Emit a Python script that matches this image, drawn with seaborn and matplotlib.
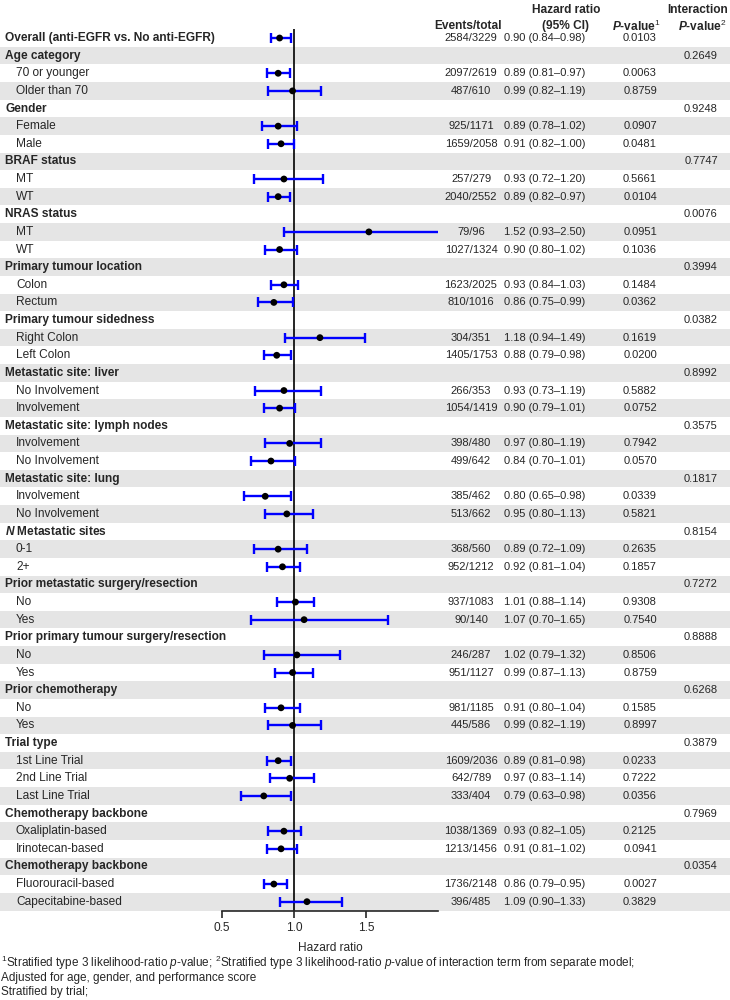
import numpy as np
import pandas as pd
import matplotlib
matplotlib.use("Agg")
import matplotlib.pyplot as plt
import seaborn as sns

# filas del forest plot (nivel 0 = encabezado en negrita)
labels = ["Overall (anti-EGFR vs. No anti-EGFR)",
          "Age category", "70 or younger", "Older than 70",
          "Gender", "Female", "Male",
          "BRAF status", "MT", "WT",
          "NRAS status", "MT", "WT",
          "Primary tumour location", "Colon", "Rectum",
          "Primary tumour sidedness", "Right Colon", "Left Colon",
          "Metastatic site: liver", "No Involvement", "Involvement",
          "Metastatic site: lymph nodes", "Involvement", "No Involvement",
          "Metastatic site: lung", "Involvement", "No Involvement",
          r"$\mathbfit{N}$ Metastatic sites", "0-1", "2+",
          "Prior metastatic surgery/resection", "No", "Yes",
          "Prior primary tumour surgery/resection", "No", "Yes",
          "Prior chemotherapy", "No", "Yes",
          "Trial type", "1st Line Trial", "2nd Line Trial", "Last Line Trial",
          "Chemotherapy backbone", "Oxaliplatin-based", "Irinotecan-based",
          "Chemotherapy backbone", "Fluorouracil-based", "Capecitabine-based"]

level = [0, 0, 1, 1, 0, 1, 1, 0, 1, 1, 0, 1, 1, 0, 1, 1, 0, 1, 1, 0, 1, 1,
         0, 1, 1, 0, 1, 1, 0, 1, 1, 0, 1, 1, 0, 1, 1, 0, 1, 1, 0, 1, 1, 1,
         0, 1, 1, 0, 1, 1]

events = ["2584/3229", "", "2097/2619", "487/610", "", "925/1171", "1659/2058",
          "", "257/279", "2040/2552", "", "79/96", "1027/1324", "", "1623/2025",
          "810/1016", "", "304/351", "1405/1753", "", "266/353", "1054/1419",
          "", "398/480", "499/642", "", "385/462", "513/662", "", "368/560",
          "952/1212", "", "937/1083", "90/140", "", "246/287", "951/1127", "",
          "981/1185", "445/586", "", "1609/2036", "642/789", "333/404", "",
          "1038/1369", "1213/1456", "", "1736/2148", "396/485"]

nan = np.nan
hr = [0.90, nan, 0.89, 0.99, nan, 0.89, 0.91, nan, 0.93, 0.89, nan, 1.52, 0.90,
      nan, 0.93, 0.86, nan, 1.18, 0.88, nan, 0.93, 0.90, nan, 0.97, 0.84, nan,
      0.80, 0.95, nan, 0.89, 0.92, nan, 1.01, 1.07, nan, 1.02, 0.99, nan, 0.91,
      0.99, nan, 0.89, 0.97, 0.79, nan, 0.93, 0.91, nan, 0.86, 1.09]
lo = [0.84, nan, 0.81, 0.82, nan, 0.78, 0.82, nan, 0.72, 0.82, nan, 0.93, 0.80,
      nan, 0.84, 0.75, nan, 0.94, 0.79, nan, 0.73, 0.79, nan, 0.80, 0.70, nan,
      0.65, 0.80, nan, 0.72, 0.81, nan, 0.88, 0.70, nan, 0.79, 0.87, nan, 0.80,
      0.82, nan, 0.81, 0.83, 0.63, nan, 0.82, 0.81, nan, 0.79, 0.90]
hi = [0.98, nan, 0.97, 1.19, nan, 1.02, 1.00, nan, 1.20, 0.97, nan, 2.50, 1.02,
      nan, 1.03, 0.99, nan, 1.49, 0.98, nan, 1.19, 1.01, nan, 1.19, 1.01, nan,
      0.98, 1.13, nan, 1.09, 1.04, nan, 1.14, 1.65, nan, 1.32, 1.13, nan, 1.04,
      1.19, nan, 0.98, 1.14, 0.98, nan, 1.05, 1.02, nan, 0.95, 1.33]

pvals = ["0.0103", "", "0.0063", "0.8759", "", "0.0907", "0.0481", "", "0.5661",
         "0.0104", "", "0.0951", "0.1036", "", "0.1484", "0.0362", "", "0.1619",
         "0.0200", "", "0.5882", "0.0752", "", "0.7942", "0.0570", "", "0.0339",
         "0.5821", "", "0.2635", "0.1857", "", "0.9308", "0.7540", "", "0.8506",
         "0.8759", "", "0.1585", "0.8997", "", "0.0233", "0.7222", "0.0356", "",
         "0.2125", "0.0941", "", "0.0027", "0.3829"]

inter_p = ["", "0.2649", "", "", "0.9248", "", "", "0.7747", "", "", "0.0076",
           "", "", "0.3994", "", "", "0.0382", "", "", "0.8992", "", "",
           "0.3575", "", "", "0.1817", "", "", "0.8154", "", "", "0.7272", "",
           "", "0.8888", "", "", "0.6268", "", "", "0.3879", "", "", "",
           "0.7969", "", "", "0.0354", "", ""]

df = pd.DataFrame({"label": labels, "level": level, "events": events,
                   "hr": hr, "lo": lo, "hi": hi, "p": pvals, "pint": inter_p})
df["row"] = np.arange(len(df))
n = len(df)

sns.set_style("white")
plt.rcParams["font.family"] = ["Liberation Sans", "DejaVu Sans"]
plt.rcParams["mathtext.fontset"] = "custom"
plt.rcParams["mathtext.rm"] = "Liberation Sans"
plt.rcParams["mathtext.it"] = "Liberation Sans:italic"
plt.rcParams["mathtext.bf"] = "Liberation Sans:bold"
plt.rcParams["mathtext.bfit"] = "Liberation Sans:italic:bold"

W, H = 730, 1000
fig = plt.figure(figsize=(7.3, 10), dpi=100)

top_px, bot_px = 29.2, 910.5
y0 = 1 - bot_px / H
hgt = (bot_px - top_px) / H

# fondo con bandas grises + tabla de texto
bg = fig.add_axes([0, y0, 1, hgt], zorder=0)
bg.set_xlim(0, W)
bg.set_ylim(n - 0.5, -0.5)
bg.axis("off")
for i in range(n):
    if i % 2 == 1:
        bg.axhspan(i - 0.5, i + 0.5, color="#e5e5e5", lw=0)

fs = 8.6
fnum = 8.0
for _, r in df.iterrows():
    i = r["row"]
    if r["level"] == 0:
        bg.text(5, i, r["label"], fontsize=fs, fontweight="bold", va="center")
    else:
        bg.text(16, i, r["label"], fontsize=fs, va="center")
    if r["events"]:
        bg.text(471, i, r["events"], fontsize=fnum, va="center", ha="center")
    if not np.isnan(r["hr"]):
        bg.text(545, i, f"{r['hr']:.2f} ({r['lo']:.2f}\u2013{r['hi']:.2f})",
                fontsize=fnum, va="center", ha="center")
    if r["p"]:
        bg.text(640, i, r["p"], fontsize=fnum, va="center", ha="center")
    if r["pint"]:
        bg.text(701, i, r["pint"], fontsize=fnum, va="center", ha="center")

# forest plot
ax = fig.add_axes([222 / W, y0, (438 - 222) / W, hgt], zorder=1)
ax.set_facecolor("none")
ax.axvline(1.0, color="black", lw=1.2, zorder=1)
ax.errorbar(df["hr"], df["row"], xerr=[df["hr"] - df["lo"], df["hi"] - df["hr"]],
            fmt="none", ecolor="#0000ff", elinewidth=1.7, capsize=3.6,
            capthick=1.7, zorder=2)
sns.scatterplot(data=df, x="hr", y="row", color="black", s=24,
                edgecolor="none", ax=ax, zorder=3, legend=False)
ax.set_xlim(0.5, 2.0)
ax.set_ylim(n - 0.5, -0.5)
ax.set_xticks([0.5, 1.0, 1.5])
ax.set_xticklabels(["0.5", "1.0", "1.5"], fontsize=fs)
ax.set_yticks([])
ax.set_ylabel("")
ax.set_xlabel("Hazard ratio", fontsize=fs, labelpad=6)
for s in ["top", "right", "left"]:
    ax.spines[s].set_visible(False)
ax.spines["bottom"].set_linewidth(1.2)
ax.tick_params(axis="x", direction="out", length=5, width=1.2, pad=3,
               bottom=True)

# encabezados de columna
fig.text(468 / W, 1 - 26 / H, "Events/total", fontsize=fs, fontweight="bold",
         ha="center", va="center")
fig.text(566 / W, 1 - 10 / H, "Hazard ratio", fontsize=fs, fontweight="bold",
         ha="center", va="center")
fig.text(566 / W, 1 - 26 / H, "(95% CI)", fontsize=fs, fontweight="bold",
         ha="center", va="center")
fig.text(661 / W, 1 - 26 / H, r"$\mathbfit{P}$-value$^{1}$", fontsize=fs,
         fontweight="bold", ha="right", va="center")
fig.text(728 / W, 1 - 10 / H, "Interaction", fontsize=fs, fontweight="bold",
         ha="right", va="center")
fig.text(727 / W, 1 - 26 / H, r"$\mathbfit{P}$-value$^{2}$", fontsize=fs,
         fontweight="bold", ha="right", va="center")

# notas al pie
fig.text(0.001, 1 - 963 / H,
         r"$^{1}$Stratified type 3 likelihood-ratio $\mathit{p}$-value; "
         r"$^{2}$Stratified type 3 likelihood-ratio $\mathit{p}$-value of "
         r"interaction term from separate model;", fontsize=8.45, va="center")
fig.text(0.001, 1 - 978 / H, "Adjusted for age, gender, and performance score",
         fontsize=8.45, va="center")
fig.text(0.001, 1 - 992 / H, "Stratified by trial;", fontsize=8.45, va="center")

fig.savefig("out.png", dpi=100)
